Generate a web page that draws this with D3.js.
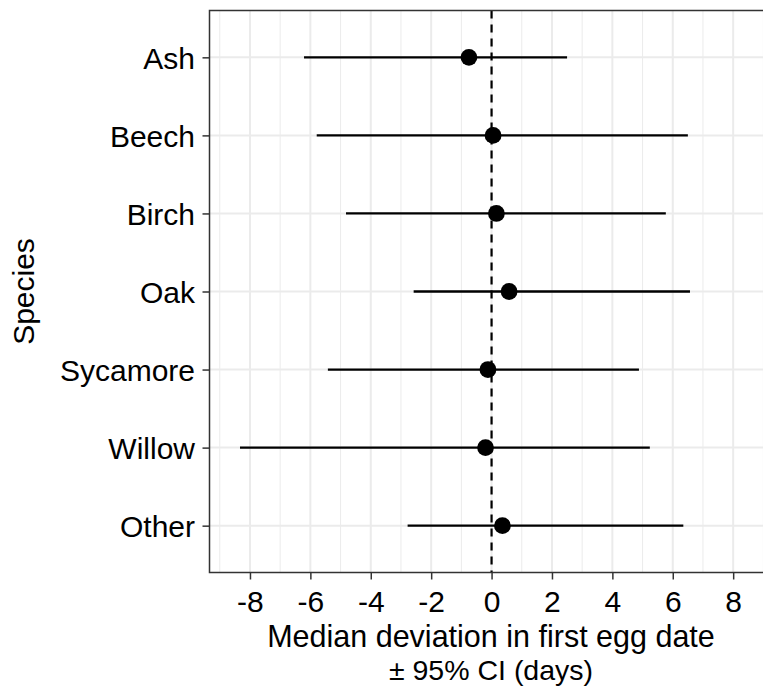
<!DOCTYPE html>
<html>
<head>
<meta charset="utf-8">
<script src="https://cdn.jsdelivr.net/npm/d3@7"></script>
<style>
  body { margin: 0; background: #fff; }
  svg { display: block; font-family: "Liberation Sans", Arial, sans-serif; }
</style>
</head>
<body>
<div id="chart"></div>
<script>
/* data */
const species = ["Ash", "Beech", "Birch", "Oak", "Sycamore", "Willow", "Other"];
const medians = [-0.75, 0.05, 0.16, 0.58, -0.12, -0.2, 0.36];
const lower = [-6.21, -5.79, -4.82, -2.58, -5.42, -8.33, -2.78];
const upper = [2.5, 6.5, 5.77, 6.57, 4.88, 5.24, 6.35];
const xTicks = [-8, -6, -4, -2, 0, 2, 4, 6, 8];
const xMinor = [-9, -7, -5, -3, -1, 1, 3, 5, 7, 9];

const rows = species.map((s, i) => ({ s, m: medians[i], lo: lower[i], hi: upper[i] }));

// layout
const W = 763, H = 686;
const panel = { left: 209.5, top: 10.5, bottom: 572.5 };
const unit = 30.2;
const xDomain = [-9.34, 9.34];

const svg = d3.select("#chart").append("svg")
  .attr("width", W)
  .attr("height", H);

const x = d3.scaleLinear()
  .domain(xDomain)
  .range([panel.left, panel.left + (xDomain[1] - xDomain[0]) * unit]);

const y = d3.scalePoint()
  .domain(species)
  .range([panel.top, panel.bottom])
  .padding(0.6);

const pr = x.range()[1];

/* grid lines */
const grid = svg.append("g");
grid.selectAll(".minor").data(xMinor).join("line")
  .attr("x1", d => x(d)).attr("x2", d => x(d))
  .attr("y1", panel.top).attr("y2", panel.bottom)
  .attr("stroke", "#ebebeb").attr("stroke-width", 1);
grid.selectAll(".major").data(xTicks).join("line")
  .attr("x1", d => x(d)).attr("x2", d => x(d))
  .attr("y1", panel.top).attr("y2", panel.bottom)
  .attr("stroke", "#ebebeb").attr("stroke-width", 2);
grid.selectAll(".hmajor").data(species).join("line")
  .attr("x1", panel.left).attr("x2", pr)
  .attr("y1", d => y(d)).attr("y2", d => y(d))
  .attr("stroke", "#ebebeb").attr("stroke-width", 2);

/* zero reference line */
svg.append("line")
  .attr("x1", x(0)).attr("x2", x(0))
  .attr("y1", panel.top).attr("y2", panel.bottom)
  .attr("stroke", "#000").attr("stroke-width", 2.2)
  .attr("stroke-dasharray", "8,6");

/* confidence intervals */
svg.selectAll(".ci").data(rows).join("line")
  .attr("x1", d => x(d.lo)).attr("x2", d => x(d.hi))
  .attr("y1", d => y(d.s)).attr("y2", d => y(d.s))
  .attr("stroke", "#000").attr("stroke-width", 2.3);

/* medians */
svg.selectAll(".pt").data(rows).join("circle")
  .attr("cx", d => x(d.m)).attr("cy", d => y(d.s))
  .attr("r", 8.4).attr("fill", "#000");

/* panel border */
svg.append("rect")
  .attr("x", panel.left).attr("y", panel.top)
  .attr("width", pr - panel.left).attr("height", panel.bottom - panel.top)
  .attr("fill", "none").attr("stroke", "#333").attr("stroke-width", 1.5);

/* axes */
const xAxis = d3.axisBottom(x).tickValues(xTicks).tickSize(7).tickPadding(10)
  .tickFormat(d => d < 0 ? "-" + Math.abs(d) : d);
const gx = svg.append("g").attr("transform", `translate(0,${panel.bottom})`).call(xAxis);
gx.select(".domain").remove();
gx.selectAll(".tick line").attr("stroke", "#333").attr("stroke-width", 1.5);
gx.selectAll(".tick text").attr("fill", "#000").attr("font-size", 30)
  .attr("dy", null).attr("y", 39.5);

const yAxis = d3.axisLeft(y).tickSize(7).tickPadding(7);
const gy = svg.append("g").attr("transform", `translate(${panel.left},0)`).call(yAxis);
gy.select(".domain").remove();
gy.selectAll(".tick line").attr("stroke", "#333").attr("stroke-width", 1.5);
gy.selectAll(".tick text").attr("fill", "#000").attr("font-size", 30)
  .attr("dy", "0.36em").attr("x", -14.5);

/* axis titles */
svg.append("text")
  .attr("x", 491).attr("y", 647)
  .attr("text-anchor", "middle").attr("font-size", 30.5).attr("fill", "#000")
  .text("Median deviation in first egg date");
svg.append("text")
  .attr("x", 491).attr("y", 679.5)
  .attr("text-anchor", "middle").attr("font-size", 28.5).attr("fill", "#000")
  .text("± 95% CI (days)");

svg.append("text")
  .attr("transform", `translate(34,${(panel.top + panel.bottom) / 2}) rotate(-90)`)
  .attr("text-anchor", "middle").attr("font-size", 30).attr("fill", "#000")
  .text("Species");
</script>
</body>
</html>
